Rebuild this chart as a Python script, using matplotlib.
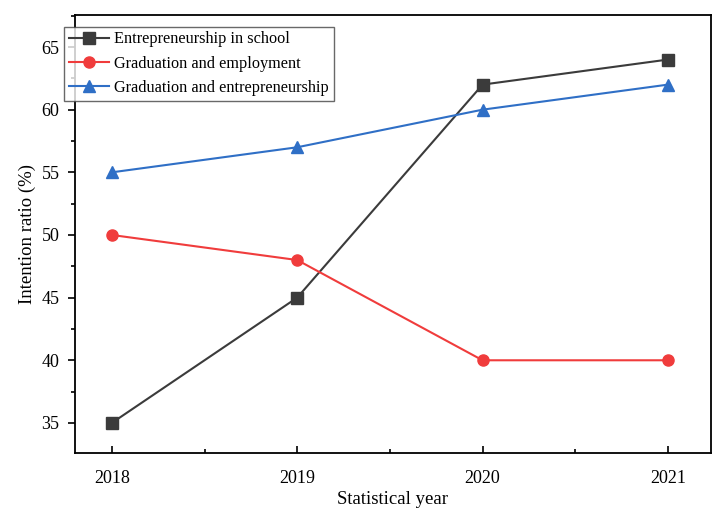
import matplotlib.pyplot as plt
from matplotlib.ticker import MultipleLocator

years = [2018, 2019, 2020, 2021]
in_school = [35, 45, 62, 64]
employment = [50, 48, 40, 40]
grad_entrep = [55, 57, 60, 62]

plt.rcParams['font.family'] = 'Liberation Serif'

fig = plt.figure(figsize=(7.12, 5.11), dpi=100)
ax = fig.add_axes([0.105, 0.1135, 0.893, 0.857])

ax.plot(years, in_school, color='#3b3b3b', marker='s', ms=8, lw=1.5,
        label='Entrepreneurship in school')
ax.plot(years, employment, color='#f03c3c', marker='o', ms=8, lw=1.5,
        label='Graduation and employment')
ax.plot(years, grad_entrep, color='#2f6fc6', marker='^', ms=8, lw=1.5,
        label='Graduation and entrepreneurship')

ax.set_xlim(2017.8, 2021.23)
ax.set_ylim(32.6, 67.55)
ax.set_xticks(years)
ax.xaxis.set_minor_locator(MultipleLocator(0.5))
ax.yaxis.set_major_locator(MultipleLocator(5))
ax.yaxis.set_minor_locator(MultipleLocator(2.5))
ax.tick_params(axis='x', which='both', direction='in', labelsize=13, pad=12)
ax.tick_params(axis='y', which='both', direction='out', labelsize=13, pad=6)
ax.tick_params(which='major', length=5, width=1.2)
ax.tick_params(which='minor', length=3, width=1.2)
for s in ax.spines.values():
    s.set_linewidth(1.3)

ax.set_xlabel('Statistical year', fontsize=13.5, labelpad=3)
ax.set_ylabel('Intention ratio (%)', fontsize=13.5, labelpad=4)

leg = ax.legend(loc='upper left', fontsize=11.7, fancybox=False, edgecolor='#444444',
                borderpad=0.3, labelspacing=0.5, handlelength=2.5, handletextpad=0.3,
                bbox_to_anchor=(-0.025, 0.985), borderaxespad=0.3)
leg.get_frame().set_linewidth(1.0)

fig.savefig('out.png', dpi=100)
